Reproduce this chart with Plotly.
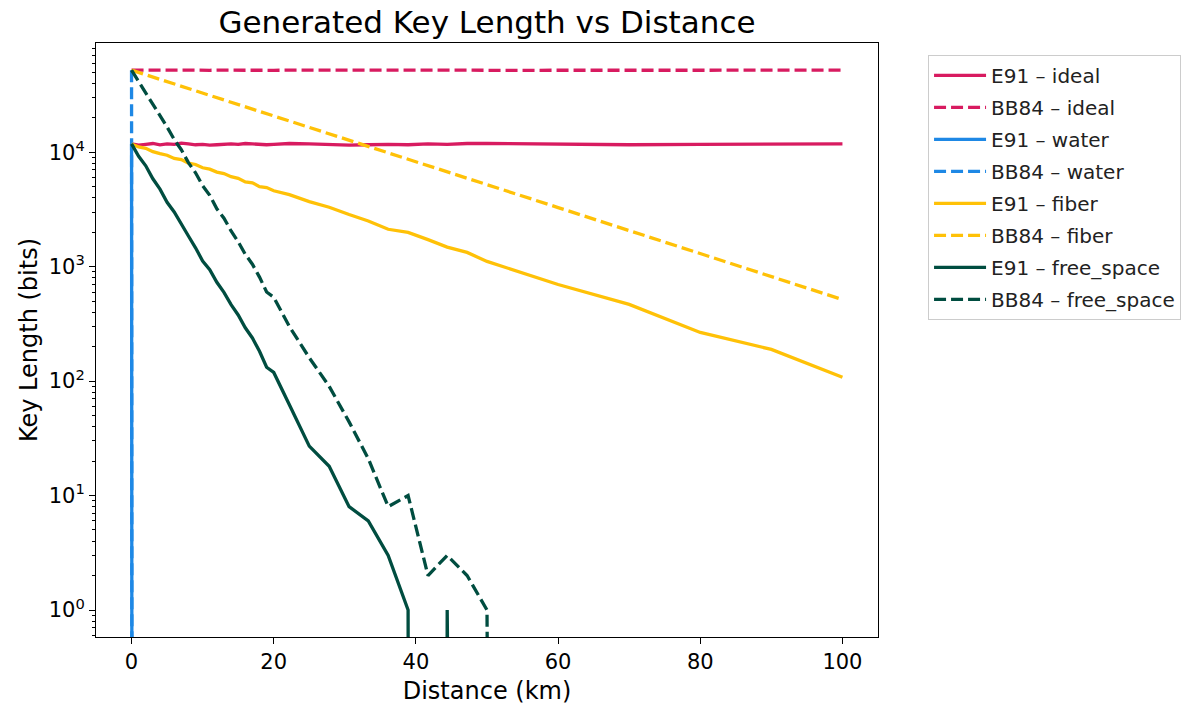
import plotly.graph_objects as go
import numpy as np

# Distance grid (km)
distance_km = [0, 1, 2, 3, 4, 5, 6, 7, 8, 9, 10, 11, 12, 13, 14, 15, 16, 17, 18, 19, 20,
               22.2, 25, 27.8, 30.6, 33.3, 36.1, 38.9, 41.7, 44.4, 47.2, 50,
               60, 70, 80, 90, 100]

# Generated key length (bits) per protocol and channel
e91_ideal = [11800, 11500, 11700, 11900, 11600, 11800, 11700, 12000, 11800, 11600, 11700,
             11500, 11600, 11700, 11800, 11700, 11900, 11800, 11700, 11600, 11700,
             11900, 11800, 11600, 11500, 11600, 11700, 11600, 11800, 11700, 11900, 11900,
             11700, 11600, 11700, 11800, 11800]
bb84_ideal = [52000, 51900, 52100, 51800, 52000, 52200, 51900, 52000, 52100, 51800, 52000,
              51900, 52000, 52100, 51900, 52000, 52000, 51800, 52100, 52000, 51900,
              52000, 52100, 51900, 52000, 51800, 52000, 52100, 51900, 52000, 52000, 51900,
              52000, 52100, 51900, 52000, 52000]
e91_water = [11800, 0, 0, 0, 0, 0, 0, 0, 0, 0, 0,
             0, 0, 0, 0, 0, 0, 0, 0, 0, 0,
             0, 0, 0, 0, 0, 0, 0, 0, 0, 0, 0,
             0, 0, 0, 0, 0]
bb84_water = [52000, 0, 0, 0, 0, 0, 0, 0, 0, 0, 0,
              0, 0, 0, 0, 0, 0, 0, 0, 0, 0,
              0, 0, 0, 0, 0, 0, 0, 0, 0, 0, 0,
              0, 0, 0, 0, 0]
e91_fiber = [11800, 11100, 10800, 10100, 9700, 9400, 8800, 8600, 8000, 7800, 7300,
             7100, 6700, 6500, 6100, 5900, 5500, 5400, 5000, 4900, 4600,
             4250, 3700, 3300, 2850, 2500, 2120, 1990, 1720, 1480, 1330, 1110,
             698, 468, 266, 189, 108]
bb84_fiber = [52000, 49650, 47430, 45290, 43180, 41300, 39400, 37560, 35870, 34200, 32800,
              31300, 29900, 28550, 27250, 26000, 24800, 23700, 22620, 21600, 20700,
              18600, 16450, 14450, 12700, 11200, 9830, 8630, 7570, 6650, 5830, 5200,
              3280, 2070, 1300, 825, 515]
e91_free_space = [11800, 9200, 7600, 5850, 4750, 3650, 3000, 2320, 1850, 1460, 1120,
                  940, 730, 595, 465, 378, 292, 238, 182, 132, 119,
                  62, 27, 18, 8, 6, 3, 1, 0, 1, 0, 0,
                  0, 0, 0, 0, 0]
bb84_free_space = [52000, 41500, 32500, 26300, 20500, 16600, 12900, 10500, 8100, 6600, 5100,
                   4200, 3200, 2650, 2050, 1650, 1280, 1050, 810, 600, 540,
                   300, 160, 90, 44, 21, 8, 10, 2, 3, 2, 1,
                   0, 0, 0, 0, 0]

channel_colors = {
    "ideal": "#D81B60",
    "water": "#1E88E5",
    "fiber": "#FFC107",
    "free_space": "#004D40",
}

series = [
    ("E91", "ideal", e91_ideal),
    ("BB84", "ideal", bb84_ideal),
    ("E91", "water", e91_water),
    ("BB84", "water", bb84_water),
    ("E91", "fiber", e91_fiber),
    ("BB84", "fiber", bb84_fiber),
    ("E91", "free_space", e91_free_space),
    ("BB84", "free_space", bb84_free_space),
]

# Zero counts cannot sit on a log axis: push them far below the visible range
# so the curve drops straight off the bottom, as a clipped log scale does.
FLOOR = 1e-100


def clip_log(values):
    return [v if v > 0 else FLOOR for v in values]


fig = go.Figure()
for i, (proto, channel, values) in enumerate(series):
    fig.add_trace(go.Scatter(
        x=distance_km,
        y=clip_log(values),
        mode="lines",
        name=f"{proto} \u2013 {channel}",
        legendgroup=f"g{i}",
        line=dict(color=channel_colors[channel], width=3.3,
                  dash="solid" if proto == "E91" else "12px,5px"),
    ))

# Autoscaled log range with 5% padding on each side
positive = [v for _, _, vals in series for v in vals if v > 0]
lo, hi = np.log10(min(positive)), np.log10(max(positive))
pad = 0.05 * (hi - lo)
y_range = [lo - pad, hi + pad]

major = [1, 10, 100, 1000, 10000]
major_text = [f"10<sup>{k}</sup>" for k in range(5)]
minor = [m * 10.0 ** k for k in range(-1, 5) for m in range(2, 10)]

FONT = "DejaVu Sans"

fig.update_layout(
    width=1193, height=707,
    margin=dict(l=96, r=315, t=43, b=70),
    paper_bgcolor="white", plot_bgcolor="white",
    font=dict(family=FONT, color="black", size=21),
    title=dict(text="Generated Key Length vs Distance", x=0.5, xref="paper",
               xanchor="center", y=1 - 22 / 707, yref="container", yanchor="middle",
               font=dict(size=31, family=FONT, color="black")),
    showlegend=True,
    legend=dict(x=1.064, y=0.98, xanchor="left", yanchor="top",
                bordercolor="#cccccc", borderwidth=1, bgcolor="white",
                font=dict(size=20, family=FONT, color="#222222"),
                itemwidth=52,
                traceorder="grouped", tracegroupgap=3),
)

fig.update_xaxes(
    range=[-5, 105], tickvals=[0, 20, 40, 60, 80, 100],
    ticks="outside", ticklen=6, tickwidth=1, tickcolor="black",
    showline=True, linecolor="black", linewidth=1, mirror=True,
    showgrid=False, zeroline=False, automargin=False,
    tickfont=dict(size=21),
    title=dict(text="Distance (km)", font=dict(size=24), standoff=8),
)
fig.update_yaxes(
    type="log", range=y_range,
    tickmode="array", tickvals=major, ticktext=major_text,
    ticks="outside", ticklen=6, tickwidth=1, tickcolor="black",
    minor=dict(tickmode="array", tickvals=minor, ticks="outside",
               ticklen=3, tickwidth=1, tickcolor="black"),
    showline=True, linecolor="black", linewidth=1, mirror=True,
    showgrid=False, zeroline=False, automargin=False,
    tickfont=dict(size=21),
    title=dict(text="Key Length (bits)", font=dict(size=24), standoff=4),
)

fig.write_html("out.html")
